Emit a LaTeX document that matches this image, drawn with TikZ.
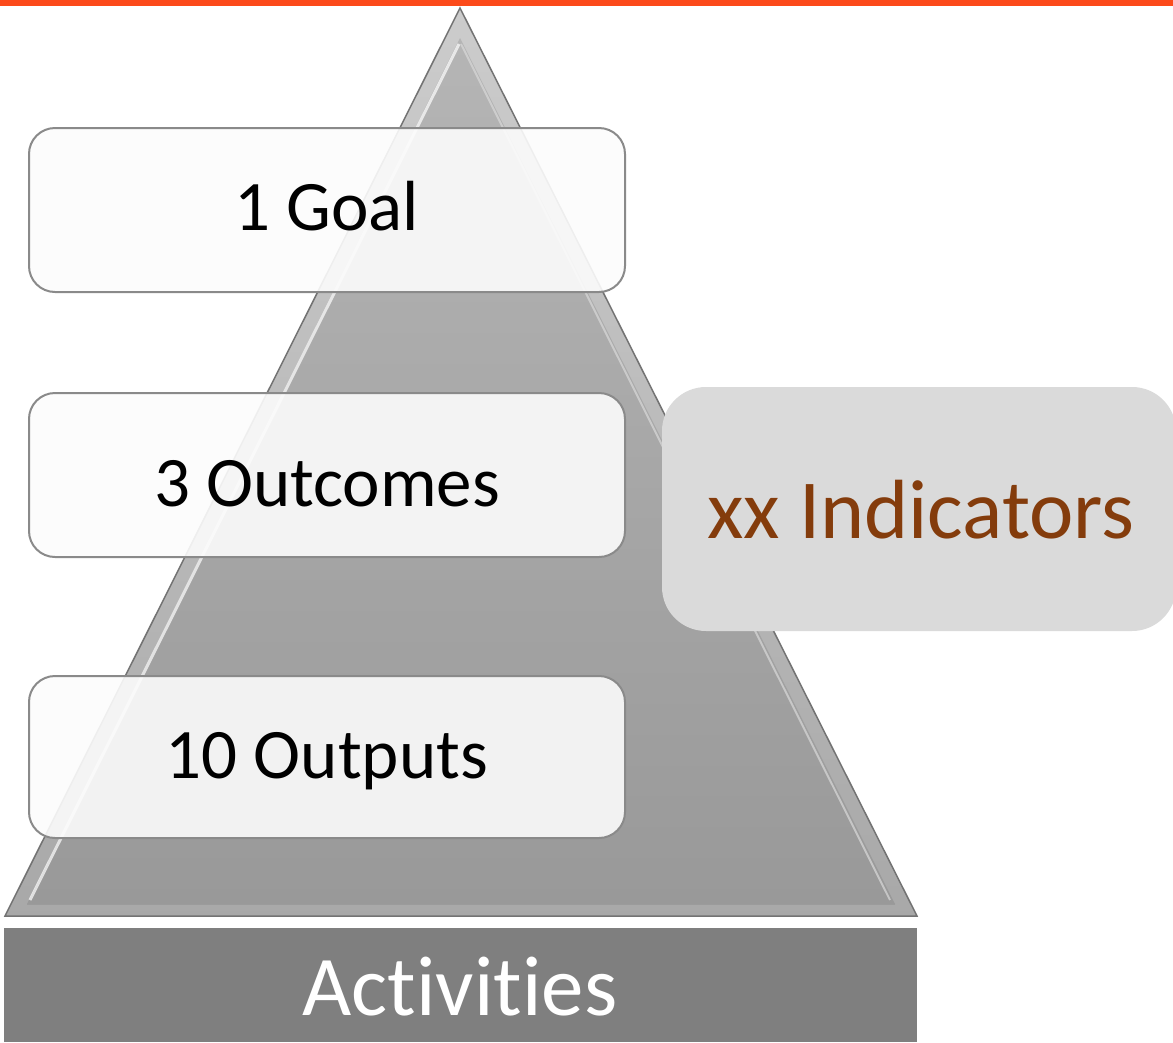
\documentclass[tikz,border=0pt]{standalone}
\usepackage{fontspec}
\setmainfont{Carlito}[Ligatures=NoCommon]
\definecolor{topline}{HTML}{FC4A1A}
\definecolor{indtext}{HTML}{843C0C}
\definecolor{indfill}{HTML}{DADADA}
\definecolor{barfill}{HTML}{7F7F7F}
\definecolor{boxline}{HTML}{8A8A8A}
\tikzset{
  levelbox/.style={draw=boxline, line width=2pt, rounded corners=26pt,
    fill=white!99!black, fill opacity=0.9},
  leveltext/.style={font=\fontsize{71}{80}\selectfont, text=black, inner sep=0pt},
}
\begin{document}
\begin{tikzpicture}[x=1pt,y=-1pt]
\useasboundingbox (0,0) rectangle (1173,1042);
\fill[white] (0,0) rectangle (1173,1042);
% top orange line
\fill[topline] (0,0) rectangle (1173,6);
% pyramid
\coordinate (apex) at (460,8);
\coordinate (bl) at (5,916);
\coordinate (br) at (917,916);
\shade[top color=white!80!black, bottom color=white!66!black, draw=white!45!black, line width=1.5pt]
  (apex) -- (br) -- (bl) -- cycle;
\shade[top color=white!71!black, bottom color=white!60!black]
  (460,38) -- (895,904) -- (27,904) -- cycle;
\draw[white, line width=3pt, opacity=0.7] (30,900) -- (459,44);
\draw[white!85!black, line width=2pt, opacity=0.7] (461,44) -- (890,900);
\draw[white!55!black, line width=1pt, opacity=0.4] (27,904) -- (895,904);
% activities bar
\node[fill=barfill, minimum width=913pt, minimum height=114pt, inner sep=0pt, anchor=north west] (act) at (4,928) {};
\node[text=white, font=\fontsize{85}{95}\selectfont, inner sep=0pt, anchor=base] (acttext) at (460,1015) {Activities};
% level boxes
\draw[levelbox] (29,128) rectangle (625,292);
\node[leveltext, anchor=base] (goal) at (327,230) {1 Goal};
\draw[levelbox] (29,393) rectangle (625,557);
\node[leveltext, anchor=base] (outcomes) at (327,506) {3 Outcomes};
\draw[levelbox] (29,676) rectangle (625,838);
\node[leveltext, anchor=base] (outputs) at (327,778) {10 Outputs};
% indicators box
\fill[indfill, rounded corners=44pt] (662,387) rectangle (1176,631);
\node[text=indtext, font=\fontsize{84}{94}\selectfont, inner sep=0pt, anchor=base] (ind) at (921,538) {xx Indicators};
\end{tikzpicture}
\end{document}
